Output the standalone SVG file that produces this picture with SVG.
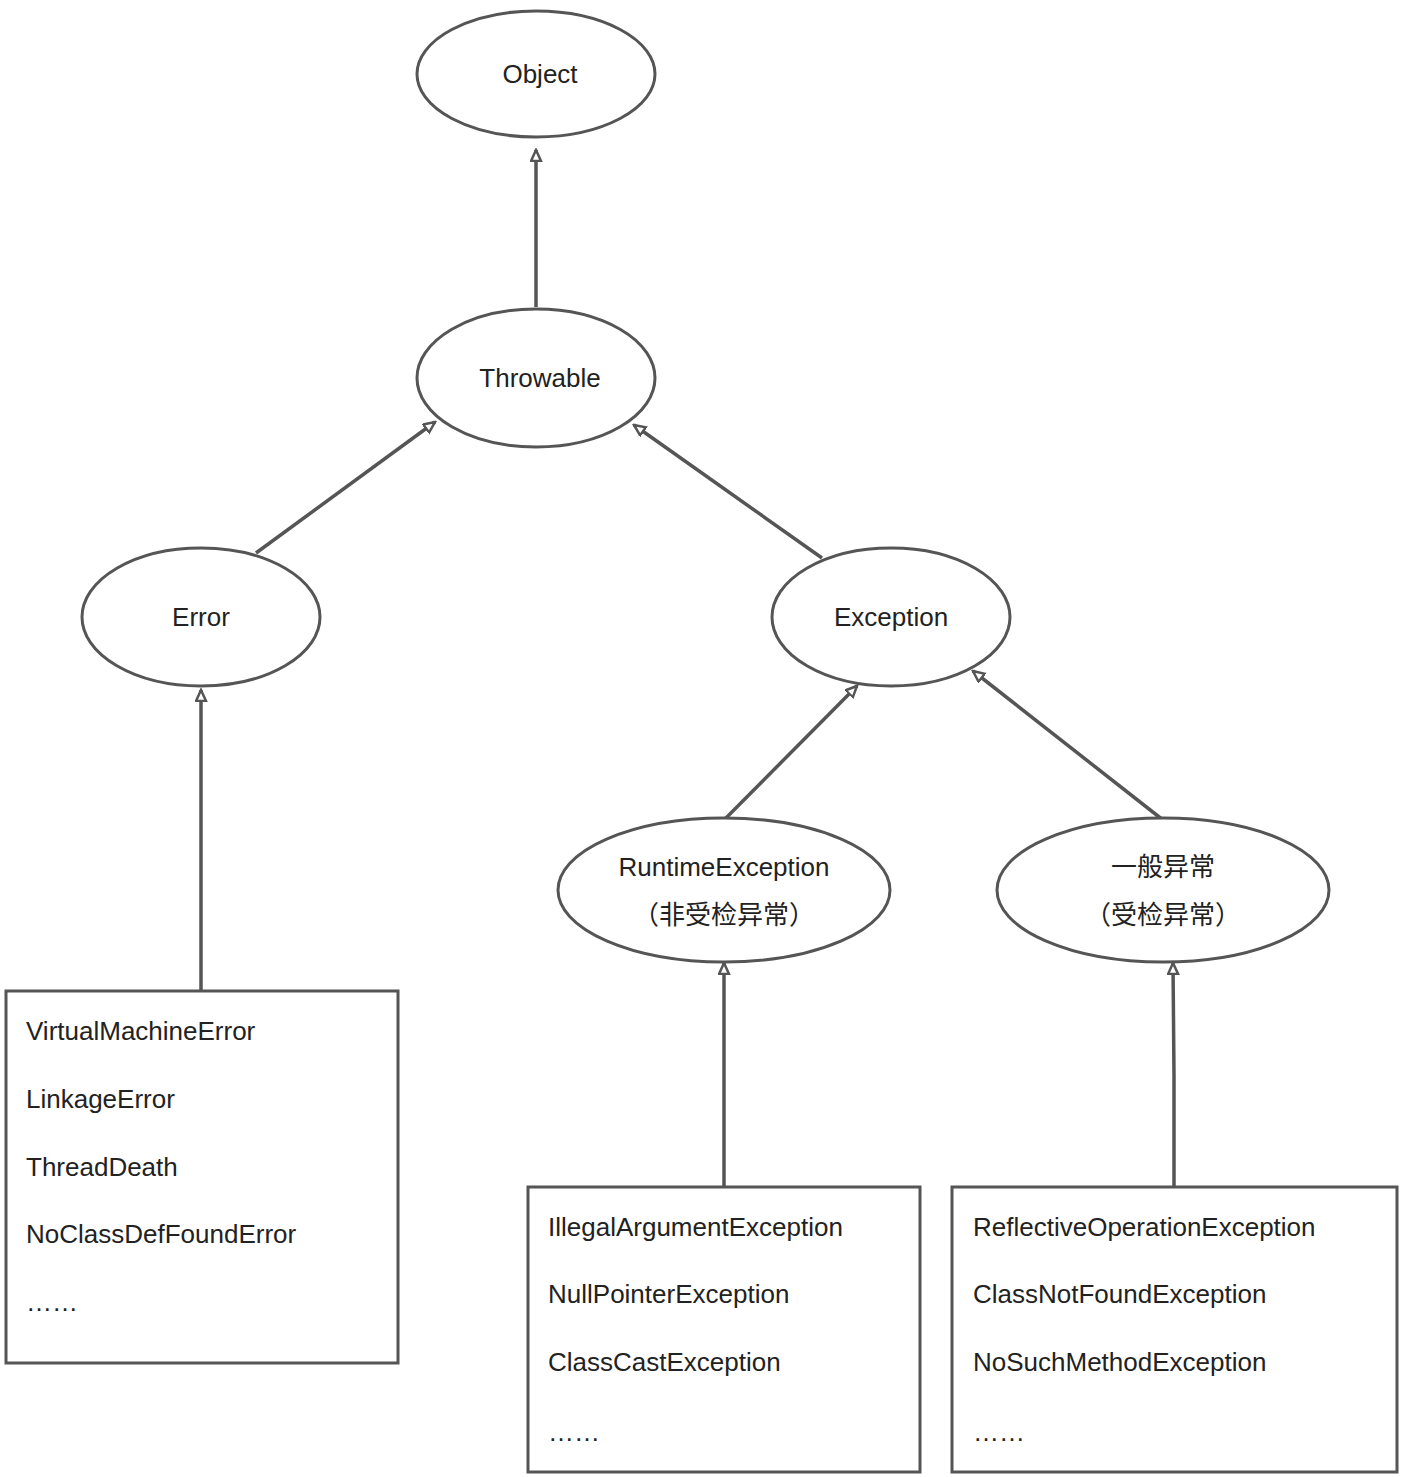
<svg xmlns="http://www.w3.org/2000/svg" width="1424" height="1477" viewBox="0 0 1424 1477">
<style>
.n{fill:#fff;stroke:#555;stroke-width:3}
.t{font-family:"Liberation Sans","Noto Sans CJK SC",sans-serif;font-size:26px;fill:#222}
.c{text-anchor:middle}
.e{stroke:#555;stroke-width:3.5;fill:none;marker-end:url(#a)}
</style>
<defs><marker id="a" markerWidth="14" markerHeight="14" refX="12" refY="6" orient="auto" markerUnits="userSpaceOnUse"><path d="M1,1 L12,6 L1,11 Z" fill="#fff" stroke="#555" stroke-width="2.5"/></marker></defs>
<rect width="1424" height="1477" fill="#fff"/>
<g id="connectors">
<path class="e" d="M536,307 L536,150"/>
<path class="e" d="M256,553 L435,422"/>
<path class="e" d="M822,558 L634,425"/>
<path class="e" d="M201,991 L201,690"/>
<path class="e" d="M724,820 L857,686"/>
<path class="e" d="M1163,820 L973,671"/>
<path class="e" d="M724,1187 L724,963"/>
<path class="e" d="M1174,1187 L1174,1075 L1173,963"/>
</g>
<g id="object"><ellipse class="n" cx="536" cy="74" rx="119" ry="63"/><text class="t c" x="540" y="83">Object</text></g>
<g id="throwable"><ellipse class="n" cx="536" cy="378" rx="119" ry="69"/><text class="t c" x="540" y="387">Throwable</text></g>
<g id="error"><ellipse class="n" cx="201" cy="617" rx="119" ry="69"/><text class="t c" x="201" y="626">Error</text></g>
<g id="exception"><ellipse class="n" cx="891" cy="617" rx="119" ry="69"/><text class="t c" x="891" y="626">Exception</text></g>
<g id="runtime"><ellipse class="n" cx="724" cy="890" rx="166" ry="72"/><text class="t c" x="724" y="876">RuntimeException</text><text class="t c" x="724" y="924">（非受检异常）</text></g>
<g id="checked"><ellipse class="n" cx="1163" cy="890" rx="166" ry="72"/><text class="t c" x="1163" y="876">一般异常</text><text class="t c" x="1163" y="924">（受检异常）</text></g>
<g id="errorbox"><rect class="n" x="6" y="991" width="392" height="372"/>
<text class="t" x="26" y="1040">VirtualMachineError</text><text class="t" x="26" y="1108">LinkageError</text><text class="t" x="26" y="1176">ThreadDeath</text><text class="t" x="26" y="1243">NoClassDefFoundError</text><text class="t" x="26" y="1311">……</text></g>
<g id="runtimebox"><rect class="n" x="528" y="1187" width="392" height="285"/>
<text class="t" x="548" y="1236">IllegalArgumentException</text><text class="t" x="548" y="1303">NullPointerException</text><text class="t" x="548" y="1371">ClassCastException</text><text class="t" x="548" y="1441">……</text></g>
<g id="checkedbox"><rect class="n" x="952" y="1187" width="445" height="285"/>
<text class="t" x="973" y="1236">ReflectiveOperationException</text><text class="t" x="973" y="1303">ClassNotFoundException</text><text class="t" x="973" y="1371">NoSuchMethodException</text><text class="t" x="973" y="1441">……</text></g>
</svg>
